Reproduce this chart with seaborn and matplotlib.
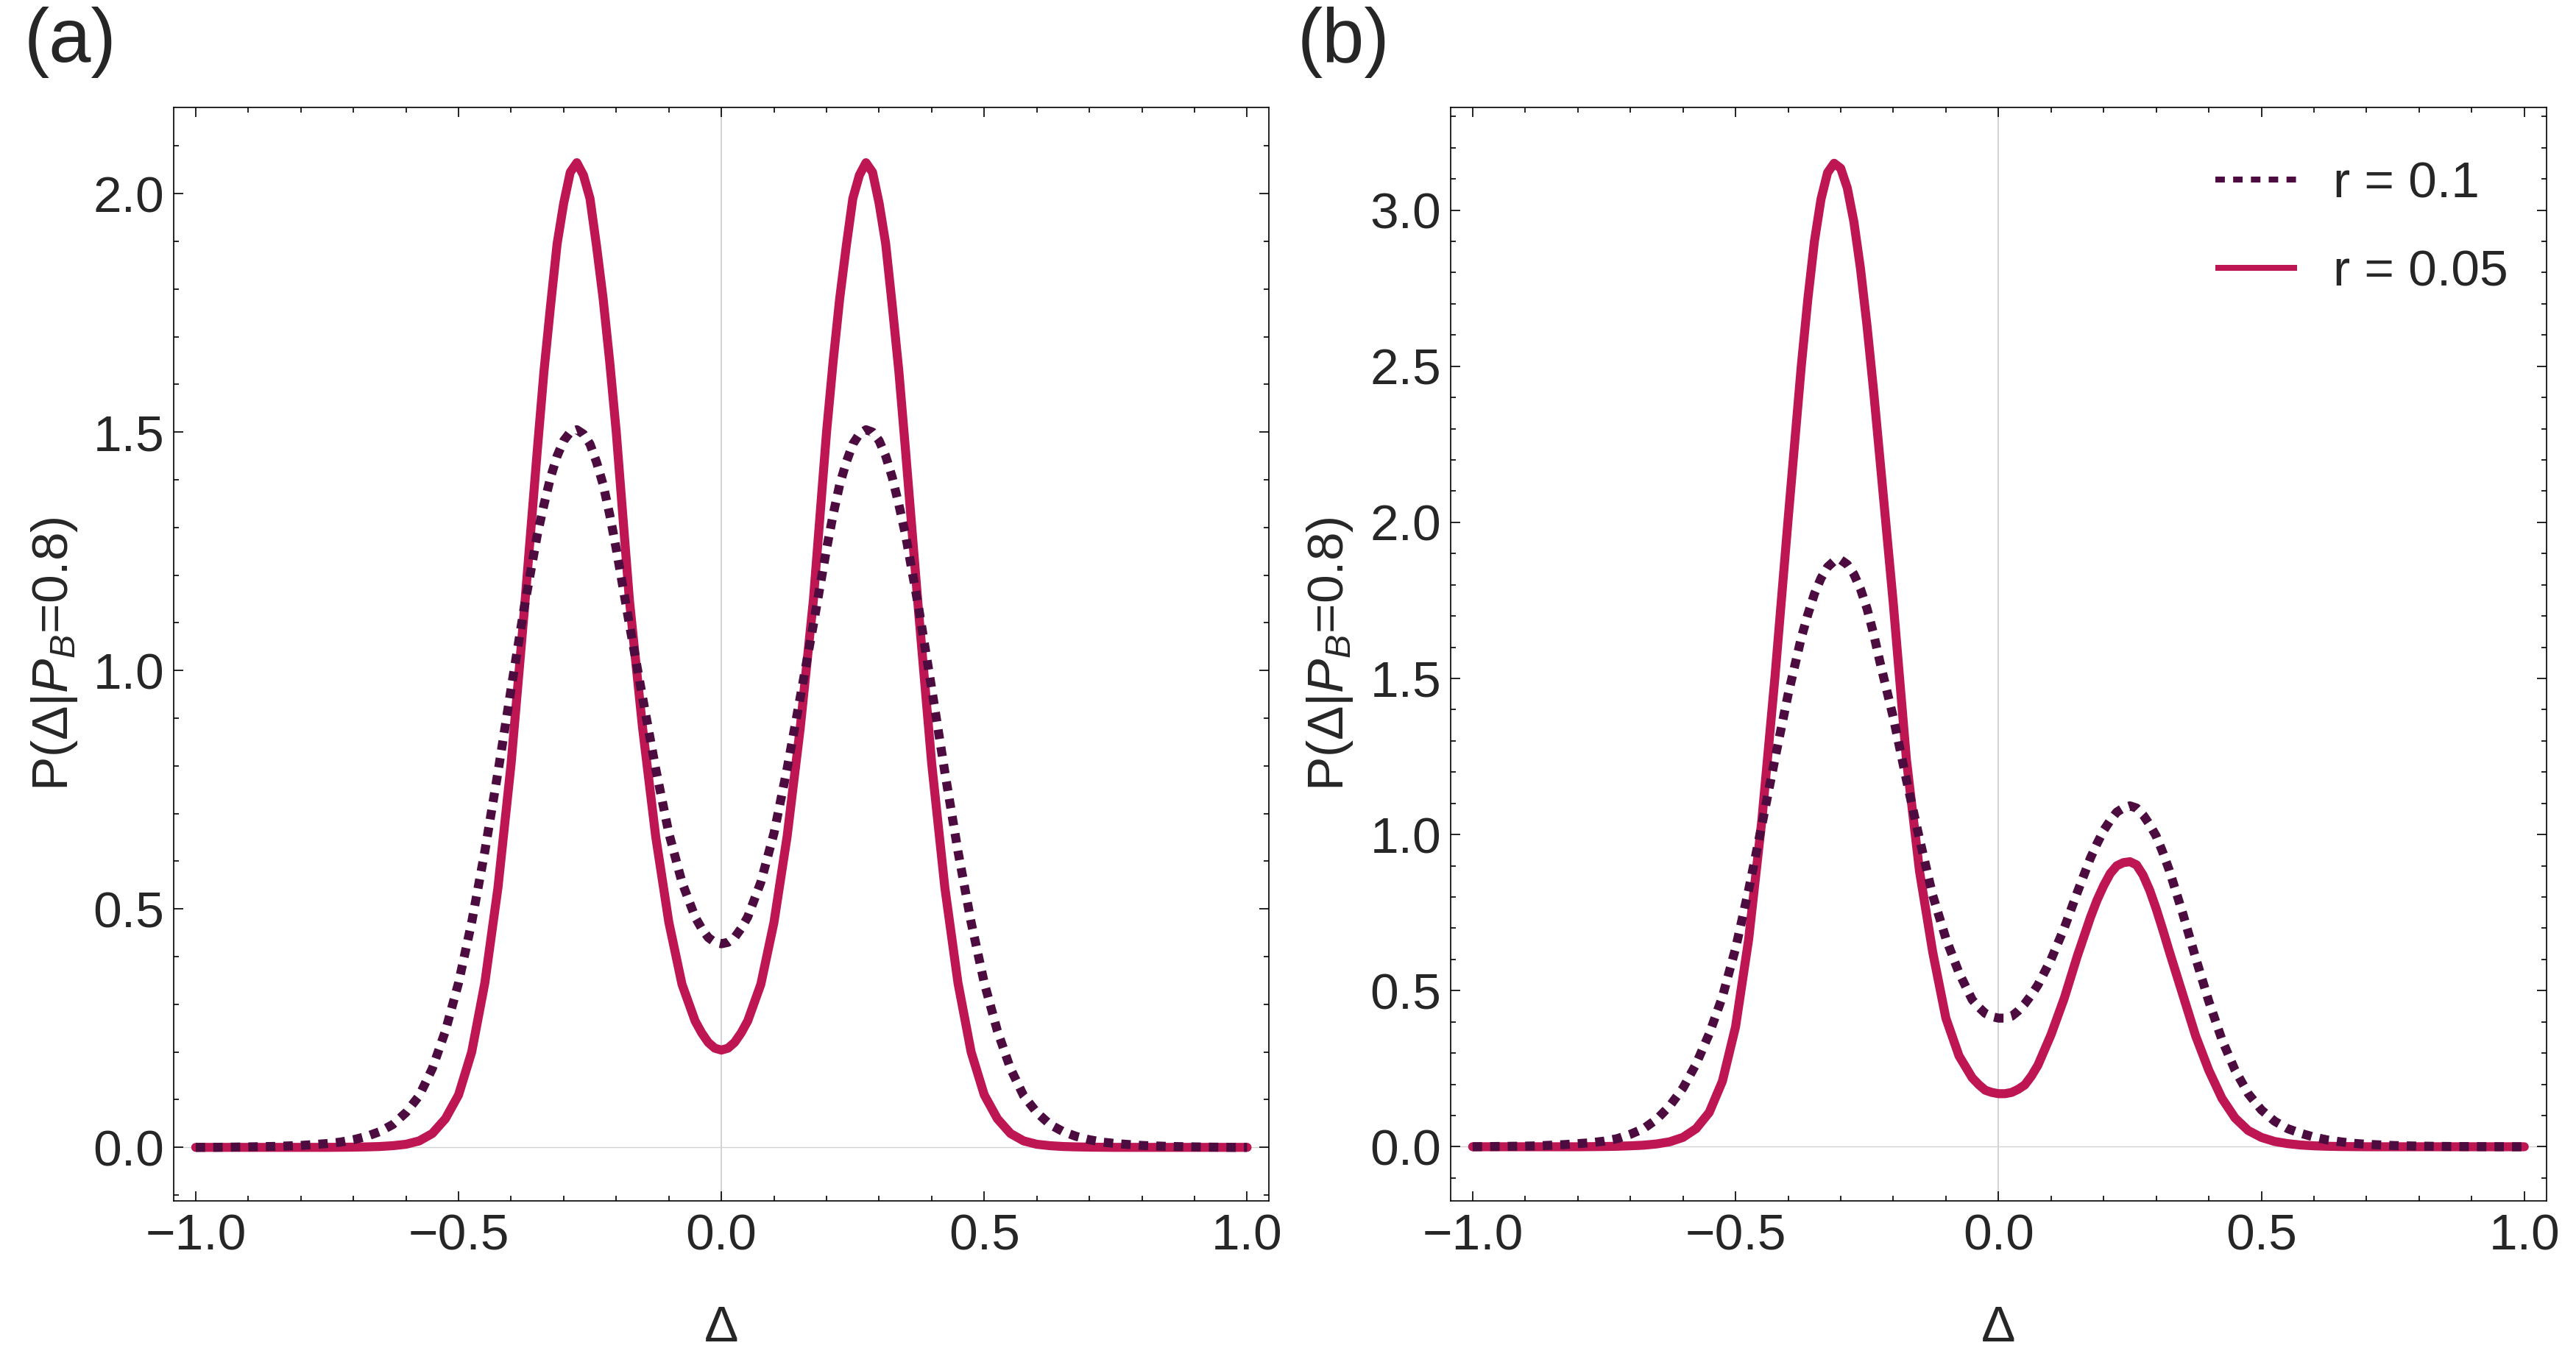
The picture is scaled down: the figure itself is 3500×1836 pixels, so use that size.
import matplotlib
matplotlib.use("Agg")
import matplotlib.pyplot as plt
from matplotlib.ticker import MultipleLocator, FuncFormatter
from matplotlib.lines import Line2D
import seaborn as sns

# ---------------- data ----------------
delta_a = [-1.0, -0.975, -0.95, -0.925, -0.9, -0.875, -0.85, -0.825, -0.8, -0.775, -0.75,
           -0.725, -0.7, -0.675, -0.65, -0.625, -0.6, -0.575, -0.55, -0.525, -0.5,
           -0.475, -0.45, -0.425, -0.4, -0.375, -0.35,
           -0.3375, -0.325, -0.3125, -0.3, -0.2875, -0.275, -0.2625, -0.25, -0.2375,
           -0.225, -0.2125, -0.2,
           -0.175, -0.15, -0.125, -0.1, -0.075, -0.05,
           -0.0375, -0.025, -0.0125,
           0.0,
           0.0125, 0.025, 0.0375,
           0.05, 0.075, 0.1, 0.125, 0.15, 0.175,
           0.2, 0.2125, 0.225, 0.2375, 0.25, 0.2625, 0.275, 0.2875, 0.3, 0.3125,
           0.325, 0.3375,
           0.35, 0.375, 0.4, 0.425, 0.45, 0.475, 0.5, 0.525, 0.55, 0.575, 0.6,
           0.625, 0.65, 0.675, 0.7, 0.725,
           0.75, 0.775, 0.8, 0.825, 0.85, 0.875, 0.9, 0.925, 0.95, 0.975, 1.0]

# panel (a), r = 0.05 (solid)
p_a_r005 = [0.0, 0.0, 0.0, 0.0, 0.0, 0.0, 0.0, 0.0, 0.0, 0.0, 0.0,
            0.0002, 0.0005, 0.001, 0.0018, 0.0035, 0.0065, 0.0135, 0.029, 0.060, 0.110,
            0.200, 0.345, 0.545, 0.805, 1.125, 1.465,
            1.628, 1.765, 1.895, 1.980, 2.045, 2.065, 2.039, 1.990, 1.890,
            1.780, 1.648, 1.500,
            1.148, 0.880, 0.652, 0.472, 0.342, 0.265,
            0.240, 0.220, 0.208,
            0.204,
            0.208, 0.220, 0.240,
            0.265, 0.342, 0.472, 0.652, 0.880, 1.148,
            1.500, 1.648, 1.780, 1.890, 1.990, 2.039, 2.065, 2.045, 1.980, 1.895,
            1.765, 1.628,
            1.465, 1.125, 0.805, 0.545, 0.345, 0.200, 0.110, 0.060, 0.029, 0.0135, 0.0065,
            0.0035, 0.0018, 0.001, 0.0005, 0.0002,
            0.0, 0.0, 0.0, 0.0, 0.0, 0.0, 0.0, 0.0, 0.0, 0.0, 0.0]

# panel (a), r = 0.1 (dotted)
p_a_r010 = [0.0, 0.0, 0.0003, 0.0006, 0.001, 0.0015, 0.002, 0.003, 0.004, 0.006, 0.008,
            0.011, 0.016, 0.023, 0.033, 0.048, 0.073, 0.108, 0.165, 0.244, 0.345,
            0.472, 0.621, 0.787, 0.962, 1.133, 1.286,
            1.348, 1.405, 1.450, 1.482, 1.500, 1.505, 1.496, 1.475, 1.437,
            1.390, 1.327, 1.255,
            1.097, 0.944, 0.794, 0.659, 0.556, 0.483,
            0.459, 0.440, 0.430,
            0.427,
            0.430, 0.440, 0.459,
            0.483, 0.556, 0.659, 0.794, 0.944, 1.097,
            1.255, 1.327, 1.390, 1.437, 1.475, 1.496, 1.505, 1.500, 1.482, 1.450,
            1.405, 1.348,
            1.286, 1.133, 0.962, 0.787, 0.621, 0.472, 0.345, 0.244, 0.165, 0.108, 0.073,
            0.048, 0.033, 0.023, 0.016, 0.011,
            0.008, 0.006, 0.004, 0.003, 0.002, 0.0015, 0.001, 0.0006, 0.0003, 0.0, 0.0]

delta_b = [-1.0, -0.975, -0.95, -0.925, -0.9, -0.875, -0.85, -0.825, -0.8,
           -0.775, -0.75, -0.725, -0.7, -0.675, -0.65, -0.625, -0.6, -0.575, -0.55,
           -0.525, -0.5, -0.475, -0.45, -0.425, -0.4, -0.375,
           -0.3625, -0.35, -0.3375, -0.325, -0.3125, -0.3, -0.2875, -0.275, -0.2625,
           -0.25, -0.2375, -0.225,
           -0.2, -0.175, -0.15, -0.125, -0.1, -0.075, -0.05,
           -0.0375, -0.025, -0.0125, 0.0, 0.0125, 0.025, 0.0375, 0.05, 0.0625,
           0.075, 0.1, 0.125, 0.15, 0.175,
           0.1875, 0.2, 0.2125, 0.225, 0.2375, 0.25, 0.2625, 0.275, 0.2875, 0.3,
           0.3125, 0.325,
           0.35, 0.375, 0.4, 0.425, 0.45, 0.475, 0.5, 0.525, 0.55, 0.575, 0.6,
           0.625, 0.65, 0.675, 0.7, 0.725, 0.75, 0.775, 0.8, 0.825, 0.85, 0.875,
           0.9, 0.925, 0.95, 0.975, 1.0]

# panel (b), r = 0.05 (solid)
p_b_r005 = [0.0, 0.0, 0.0, 0.0, 0.0, 0.0, 0.0, 0.0, 0.0,
            0.0004, 0.0008, 0.0016, 0.003, 0.005, 0.009, 0.016, 0.030, 0.058, 0.110,
            0.210, 0.384, 0.665, 1.045, 1.505, 2.010, 2.500,
            2.715, 2.900, 3.035, 3.120, 3.150, 3.134, 3.071, 2.963, 2.814,
            2.630, 2.422, 2.195,
            1.740, 1.240, 0.881, 0.623, 0.412, 0.291, 0.221,
            0.199, 0.181, 0.174, 0.170, 0.170, 0.174, 0.184, 0.198, 0.226,
            0.261, 0.359, 0.475, 0.611, 0.735,
            0.790, 0.836, 0.875, 0.900, 0.910, 0.913, 0.903, 0.870, 0.822, 0.762,
            0.695, 0.625,
            0.490, 0.355, 0.245, 0.155, 0.092, 0.052, 0.030, 0.017, 0.010, 0.0055, 0.003,
            0.0016, 0.0008, 0.0004, 0.0, 0.0, 0.0, 0.0, 0.0, 0.0, 0.0, 0.0,
            0.0, 0.0, 0.0, 0.0, 0.0]

# panel (b), r = 0.1 (dotted)
p_b_r010 = [0.0, 0.0005, 0.001, 0.0015, 0.002, 0.003, 0.005, 0.007, 0.010,
            0.013, 0.018, 0.026, 0.040, 0.058, 0.088, 0.131, 0.188, 0.265, 0.362,
            0.480, 0.635, 0.823, 1.030, 1.243, 1.449, 1.630,
            1.705, 1.771, 1.821, 1.857, 1.876, 1.880, 1.865, 1.834, 1.787,
            1.724, 1.643, 1.550,
            1.375, 1.175, 0.985, 0.805, 0.667, 0.557, 0.471,
            0.447, 0.427, 0.417, 0.412, 0.412, 0.418, 0.435, 0.458, 0.486,
            0.518, 0.600, 0.700, 0.815, 0.925,
            0.971, 1.013, 1.045, 1.072, 1.085, 1.092, 1.085, 1.063, 1.032, 0.995,
            0.943, 0.885,
            0.750, 0.605, 0.466, 0.343, 0.245, 0.170, 0.118, 0.082, 0.058, 0.043, 0.031,
            0.022, 0.016, 0.011, 0.008, 0.006, 0.004, 0.003, 0.002, 0.0015, 0.001, 0.0007,
            0.0005, 0.0003, 0.0002, 0.0, 0.0]

assert len(delta_a) == len(p_a_r005) == len(p_a_r010)
assert len(delta_b) == len(p_b_r005) == len(p_b_r010)

panel_labels = ["(a)", "(b)"]
legend_labels = ["r = 0.1", "r = 0.05"]
x_label = "\u0394"
y_label = "P(\u0394|$P_B$=0.8)"

# ---------------- style ----------------
sns.set_style("ticks")
plt.rcParams["font.family"] = ["Liberation Sans", "DejaVu Sans"]
plt.rcParams["mathtext.fontset"] = "custom"
plt.rcParams["mathtext.rm"] = "Liberation Sans"
plt.rcParams["mathtext.it"] = "Liberation Sans:italic"
plt.rcParams["mathtext.bf"] = "Liberation Sans:bold"

c_sol = "#BE1652"
c_dot = "#4C0C40"
LW = 4.4
FS = 25

fig = plt.figure(figsize=(17.5, 9.18), dpi=200)
fig.patch.set_facecolor("white")
ax_a = fig.add_axes([0.0674, 0.1112, 0.4253, 0.8093])
ax_b = fig.add_axes([0.5631, 0.1112, 0.4254, 0.8093])

fmt = FuncFormatter(lambda v, p: f"{v:.1f}".replace("-", "\u2212"))


def style(ax, ylim, ylab_x):
    ax.set_facecolor("white")
    ax.set_xlim(-1.042, 1.042)
    ax.set_ylim(*ylim)
    ax.xaxis.set_major_locator(MultipleLocator(0.5))
    ax.xaxis.set_minor_locator(MultipleLocator(0.1))
    ax.yaxis.set_major_locator(MultipleLocator(0.5))
    ax.yaxis.set_minor_locator(MultipleLocator(0.1))
    ax.xaxis.set_major_formatter(fmt)
    ax.yaxis.set_major_formatter(fmt)
    ax.tick_params(which="both", direction="in", top=True, right=True,
                   bottom=True, left=True, color="black", width=0.6)
    ax.tick_params(which="major", length=4.8)
    ax.tick_params(which="minor", length=2.5)
    ax.tick_params(axis="x", which="major", labelsize=FS, pad=6)
    ax.tick_params(axis="y", which="major", labelsize=FS, pad=4.5)
    for s in ax.spines.values():
        s.set_visible(True)
        s.set_linewidth(0.6)
        s.set_color("black")
    ax.axvline(0, color="#d2d2d2", lw=0.7, zorder=0.5)
    ax.axhline(0, color="#d2d2d2", lw=0.5, zorder=0.5)
    ax.set_xlabel(x_label, fontsize=FS)
    ax.set_ylabel(y_label, fontsize=FS)
    ax.xaxis.label.set_va("center")
    ax.yaxis.label.set_va("center")
    ax.xaxis.set_label_coords(0.5, -0.1164)
    ax.yaxis.set_label_coords(ylab_x, 0.5)


for ax, xs, ys_sol, ys_dot in [(ax_a, delta_a, p_a_r005, p_a_r010),
                               (ax_b, delta_b, p_b_r005, p_b_r010)]:
    sns.lineplot(x=xs, y=ys_sol, ax=ax, color=c_sol, linewidth=LW,
                 errorbar=None, sort=False, zorder=3)
    sns.lineplot(x=xs, y=ys_dot, ax=ax, color=c_dot, linewidth=LW,
                 linestyle=(0, (1.05, 0.9)), dash_capstyle="butt",
                 errorbar=None, sort=False, zorder=4)

style(ax_a, (-0.112, 2.181), -0.1088)
style(ax_b, (-0.173, 3.329), -0.110)

h_dot = Line2D([], [], color=c_dot, lw=2.9, linestyle=(0, (1.6, 1.4)),
               dash_capstyle="butt")
h_sol = Line2D([], [], color=c_sol, lw=2.9, solid_capstyle="butt")
ax_b.legend([h_dot, h_sol], legend_labels, loc="upper left",
            bbox_to_anchor=(0.698, 0.951), frameon=False, fontsize=FS,
            handlelength=1.6, handletextpad=0.7, labelspacing=0.8,
            borderpad=0, borderaxespad=0)

fig.text(33 / 3500, 1 - 58 / 1836, panel_labels[0], fontsize=37,
         ha="left", va="center")
fig.text(1763 / 3500, 1 - 58 / 1836, panel_labels[1], fontsize=37,
         ha="left", va="center")

fig.savefig("out.png", dpi=200, facecolor="white")
